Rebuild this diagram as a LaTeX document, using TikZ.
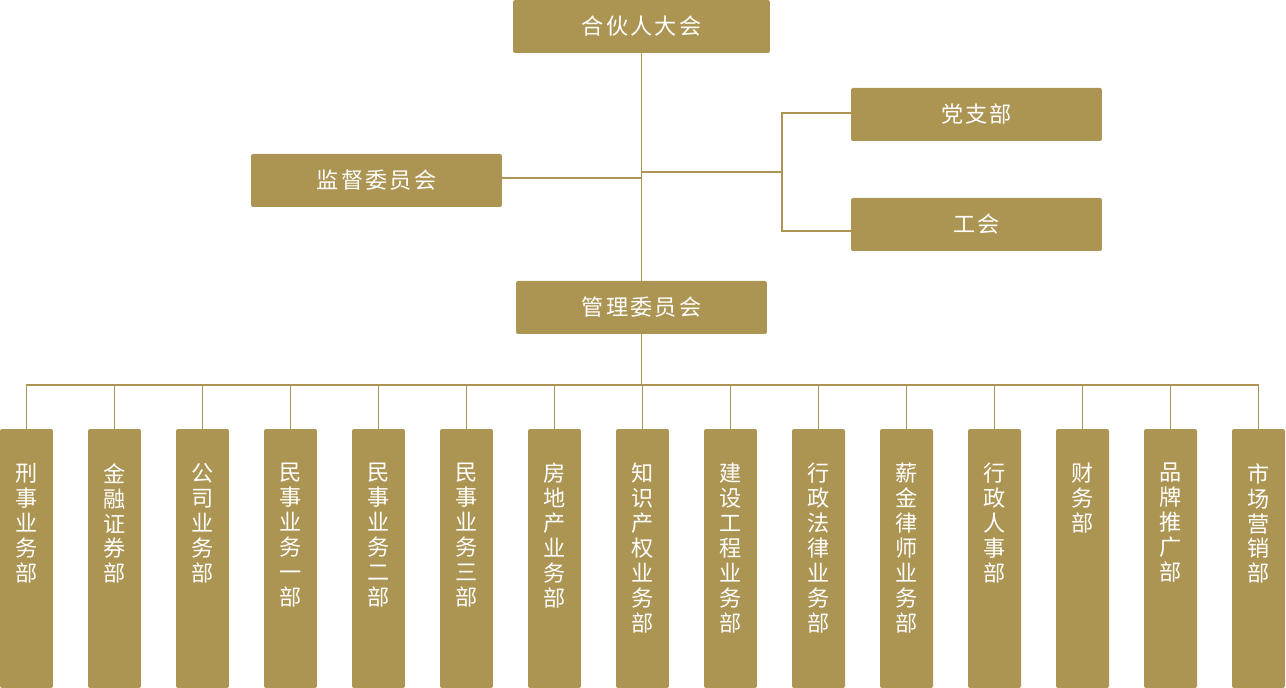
\documentclass[tikz,border=0pt]{standalone}
\usepackage{fontspec}
\newfontfamily\cjk[LetterSpace=10]{Noto Sans CJK SC}
\newfontfamily\cjkv{Noto Sans CJK SC}
\usepackage{tikz}
\usetikzlibrary{positioning,calc}
\definecolor{lawgold}{RGB}{172,148,83}

\begin{document}
\begin{tikzpicture}[x=0.02cm,y=-0.02cm,
  box/.style={rectangle,rounded corners=1.2pt,fill=lawgold,text=white,inner sep=0pt,outer sep=0pt,
    minimum height=1.06cm,font=\cjk\fontsize{12.6}{14}\selectfont},
  wide/.style={box,minimum width=5.14cm},
  mid/.style={box,minimum width=5.02cm},
  dept/.style={rectangle,rounded corners=1.2pt,fill=lawgold,inner sep=0pt,outer sep=0pt,
    minimum width=1.06cm,minimum height=5.18cm},
  vtxt/.style={text=white,inner sep=0pt,align=center,font=\cjkv\fontsize{12.6}{14.2}\selectfont},
  conn/.style={draw=lawgold,line width=0.6pt}]
\useasboundingbox (0,0) rectangle (1286,688);
% upper part
\node[wide] (hh) at (641.5,26.5) {合伙人大会};
\node[mid] (dz) at (976.5,114.5) {党支部};
\node[mid] (gh) at (976.5,224.5) {工会};
\node[mid] (jd) at (376.5,180.5) {监督委员会};
\node[mid] (gl) at (641.5,307.5) {管理委员会};
\coordinate (br) at (782,172);
\coordinate (bus) at (641.5,385);
\draw[conn] (hh.south) -- (gl.north);
\draw[conn] ([yshift=0.05cm]jd.east) -- ([yshift=0.05cm]jd.east -| hh.south);
\draw[conn] (br -| hh.south) -- (br);
\draw[conn] ([yshift=0.03cm]dz.west) -| (br) |- ([yshift=-0.13cm]gh.west);
\draw[conn] (gl.south) -- (bus);
% departments
\foreach \name [count=\i from 0] in {{刑\\事\\业\\务\\部},{金\\融\\证\\券\\部},{公\\司\\业\\务\\部},
    {民\\事\\业\\务\\一\\部},{民\\事\\业\\务\\二\\部},{民\\事\\业\\务\\三\\部},
    {房\\地\\产\\业\\务\\部},{知\\识\\产\\权\\业\\务\\部},{建\\设\\工\\程\\业\\务\\部},
    {行\\政\\法\\律\\业\\务\\部},{薪\\金\\律\\师\\业\\务\\部},{行\\政\\人\\事\\部},
    {财\\务\\部},{品\\牌\\推\\广\\部},{市\\场\\营\\销\\部}}{
  \node[dept] (d\i) at (26.5+88*\i,558.5) {};
  \node[vtxt,anchor=north] (t\i) at (26.5+88*\i,463) {\name};
  \draw[conn] (d\i.north) |- (bus);
}
\end{tikzpicture}
\end{document}
